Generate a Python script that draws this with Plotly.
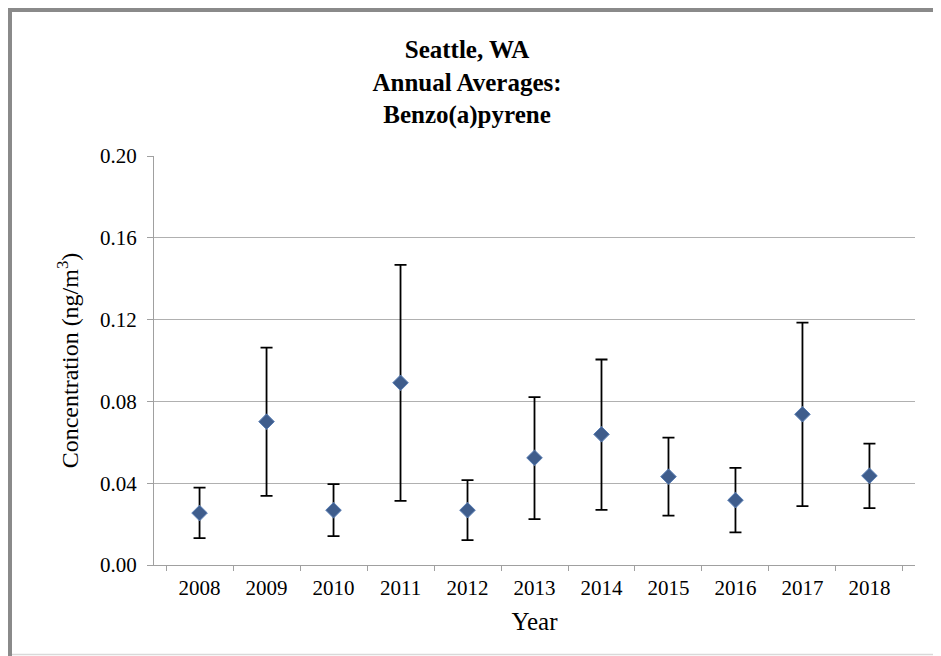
import plotly.graph_objects as go

years = ["2008", "2009", "2010", "2011", "2012", "2013", "2014", "2015", "2016", "2017", "2018"]
means = [0.0254, 0.0701, 0.0268, 0.0891, 0.0268, 0.0524, 0.0639, 0.0432, 0.0317, 0.0737, 0.0436]
upper = [0.0378, 0.1063, 0.0395, 0.1468, 0.0415, 0.0821, 0.1005, 0.0623, 0.0475, 0.1185, 0.0594]
lower = [0.0131, 0.0338, 0.0141, 0.0314, 0.0122, 0.0224, 0.0270, 0.0241, 0.0160, 0.0288, 0.0278]
yticks = [0.00, 0.04, 0.08, 0.12, 0.16, 0.20]

# page body offset compensation (figure drawn at 8,8 on the page)
OFF = 8
W, H = 941 - OFF, 656 - OFF
ML = 154 - OFF
MT = 156 - OFF
MR = W - (915 - OFF)
MB = H - (565 - OFF)
FONT = "Liberation Serif, serif"

err_plus = [u - m for u, m in zip(upper, means)]
err_minus = [m - l for m, l in zip(means, lower)]

fig = go.Figure()
fig.add_trace(go.Scatter(
    x=years, y=means, mode="markers",
    marker=dict(symbol="diamond", size=12, color="#3f5d8c",
                line=dict(color="#5a7fb5", width=1)),
    error_y=dict(type="data", symmetric=False, array=err_plus, arrayminus=err_minus,
                 color="black", thickness=1.8, width=6),
    showlegend=False,
))

pw = W - ML - MR
ph = H - MT - MB
def px_x(x):
    return (x - OFF - ML) / pw
def px_y(y):
    return (H - MB - (y - OFF)) / ph

# outer frame (gray band top/left, light line bottom)
fig.add_shape(type="rect", xref="paper", yref="paper",
              x0=px_x(7), x1=px_x(945), y0=px_y(7), y1=px_y(12),
              fillcolor="#8a8a8a", line=dict(width=0), layer="above")
fig.add_shape(type="rect", xref="paper", yref="paper",
              x0=px_x(7), x1=px_x(12), y0=px_y(7), y1=px_y(660),
              fillcolor="#8a8a8a", line=dict(width=0), layer="above")
fig.add_shape(type="line", xref="paper", yref="paper",
              x0=px_x(12), x1=px_x(945), y0=px_y(654.5), y1=px_y(654.5),
              line=dict(color="#d9d9d9", width=1.5), layer="above")

fig.update_layout(
    width=W, height=H,
    margin=dict(l=ML, r=MR, t=MT, b=MB),
    paper_bgcolor="white", plot_bgcolor="white",
    font=dict(family=FONT, color="black", size=20),
    title=dict(text="<b>Seattle, WA<br>Annual Averages:<br>Benzo(a)pyrene</b>",
               x=(467 - OFF) / W, xanchor="center", y=1 - (58 - OFF) / H, yanchor="top",
               font=dict(family=FONT, size=25, color="black")),
    xaxis=dict(
        type="category", categoryorder="array", categoryarray=years,
        tickson="boundaries", ticks="outside", ticklen=5, tickcolor="#a0a0a0",
        showline=True, linecolor="#a0a0a0", linewidth=1.3, showgrid=False,
        tickfont=dict(family=FONT, size=21), ticklabelstandoff=4,
        title=dict(text="Year", font=dict(family=FONT, size=25), standoff=13),
    ),
    yaxis=dict(
        range=[0, 0.2], tickvals=yticks, tickformat=".2f",
        ticks="outside", ticklen=6, tickcolor="#a0a0a0",
        showline=True, linecolor="#a0a0a0", linewidth=1.3,
        showgrid=True, gridcolor="#b0b0b0", gridwidth=1.3, zeroline=False,
        tickfont=dict(family=FONT, size=21), ticklabelstandoff=6,
        title=dict(text="Concentration (ng/m<sup>3</sup>)", font=dict(family=FONT, size=24), standoff=14),
    ),
)

fig.write_html("out.html")
